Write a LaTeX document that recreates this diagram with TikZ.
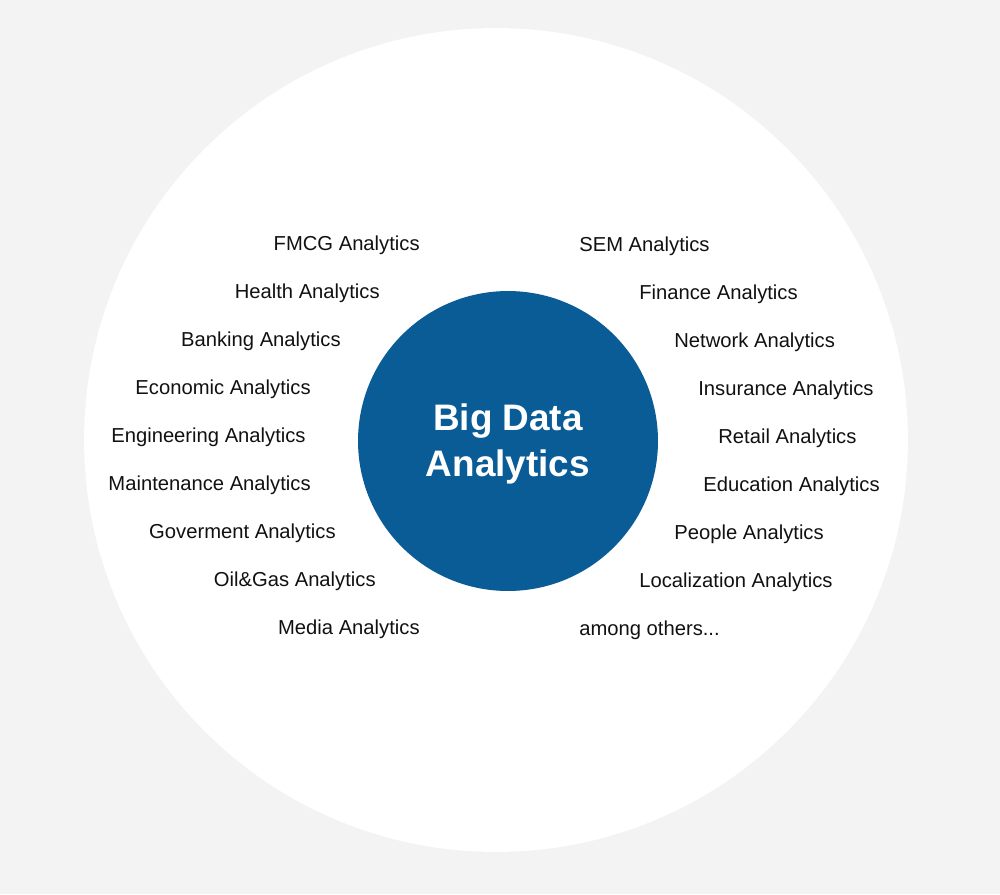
\documentclass[tikz,border=0pt]{standalone}
\usepackage{fontspec}
\setmainfont{Liberation Sans}
\usetikzlibrary{positioning}
\definecolor{pagegray}{HTML}{F3F3F3}
\definecolor{bigblue}{HTML}{095C95}
\definecolor{labelink}{HTML}{111111}

\begin{document}
\begin{tikzpicture}[x=0.02cm, y=-0.02cm,
  leftlabel/.style={anchor=east, inner sep=0pt, text=labelink, font=\fontsize{11.5}{13}\selectfont},
  rightlabel/.style={anchor=west, inner sep=0pt, text=labelink, font=\fontsize{11.5}{13}\selectfont}]
  \fill[pagegray] (0,0) rectangle (1000,894);
  \useasboundingbox (0,0) rectangle (1000,894);
  \node[circle, fill=white, minimum size=16.48cm, inner sep=0pt] (outer) at (496,440) {};
  \node[circle, fill=bigblue, minimum size=6cm, inner sep=0pt] (core) at (508,441) {};
  \node[text=white, align=center, inner sep=0pt, font=\fontsize{21}{24}\bfseries\selectfont]
    (coretext) at (508,444) {Big Data\\[0.08cm]Analytics};

  % left arc
  \node[leftlabel] (fmcg) at (420,245) {FMCG Analytics};
  \node[leftlabel] (health) at (380,293) {Health Analytics};
  \node[leftlabel] (banking) at (341,341) {Banking Analytics};
  \node[leftlabel] (economic) at (311,389) {Economic Analytics};
  \node[leftlabel] (engineering) at (306,437) {Engineering Analytics};
  \node[leftlabel] (maintenance) at (311,485) {Maintenance Analytics};
  \node[leftlabel] (goverment) at (336,533) {Goverment Analytics};
  \node[leftlabel] (oilgas) at (376,581) {Oil\&Gas Analytics};
  \node[leftlabel] (media) at (420,629) {Media Analytics};

  % right arc
  \node[rightlabel] (sem) at (579,246) {SEM Analytics};
  \node[rightlabel] (finance) at (639,294) {Finance Analytics};
  \node[rightlabel] (network) at (674,342) {Network Analytics};
  \node[rightlabel] (insurance) at (698,390) {Insurance Analytics};
  \node[rightlabel] (retail) at (718,438) {Retail Analytics};
  \node[rightlabel] (education) at (703,486) {Education Analytics};
  \node[rightlabel] (people) at (674,534) {People Analytics};
  \node[rightlabel] (localization) at (639,582) {Localization Analytics};
  \node[rightlabel] (others) at (579,630) {among others...};
\end{tikzpicture}
\end{document}
